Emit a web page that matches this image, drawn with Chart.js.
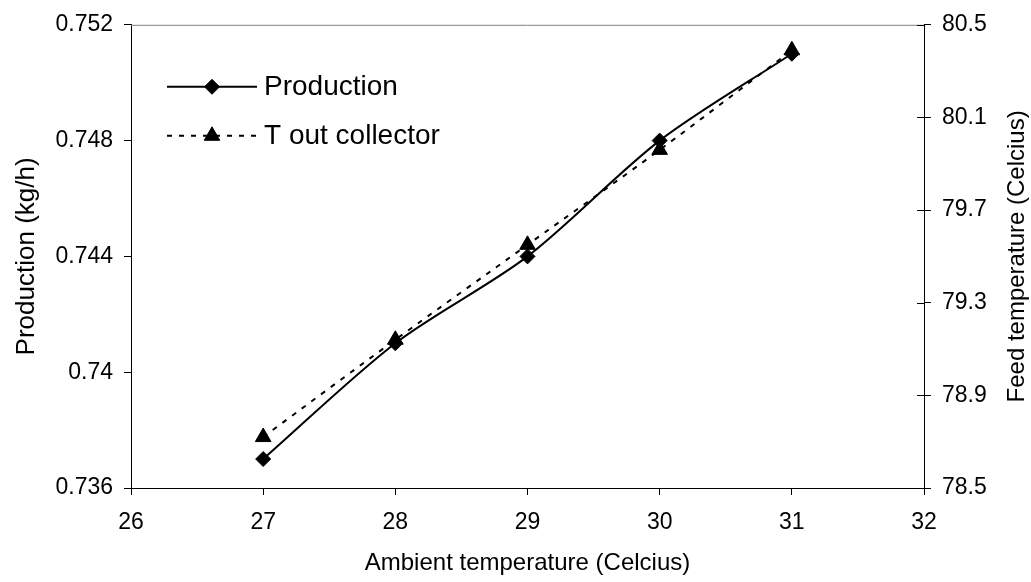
<!DOCTYPE html>
<html>
<head>
<meta charset="utf-8">
<title>Production and collector outlet temperature</title>
<script src="https://cdn.jsdelivr.net/npm/chart.js@4.4.1/dist/chart.umd.min.js"></script>
<style>
  html, body { margin: 0; padding: 0; background: #fff; }
  #wrap { position: relative; width: 1031px; height: 582px; }
</style>
</head>
<body>
<div id="wrap"><canvas id="chart"></canvas></div>
<script>
// ── Data ──
const ambientTemps  = [27, 28, 29, 30, 31];
const production    = [0.737, 0.741, 0.744, 0.748, 0.751];
const tOutCollector = [78.72, 79.14, 79.55, 79.96, 80.39];

const xTicks     = [26, 27, 28, 29, 30, 31, 32];
const leftTicks  = [0.736, 0.740, 0.744, 0.748, 0.752];
const rightTicks = [78.5, 78.9, 79.3, 79.7, 80.1, 80.5];

const FONT = "Arial, 'Liberation Sans', sans-serif";

function points(xs, ys) {
  return xs.map(function(x, i) { return { x: x, y: ys[i] }; });
}

function fixedTicks(list) {
  return function(scale) {
    scale.ticks = list.map(function(v) { return { value: v }; });
  };
}

// ── Frame top edge, right axis inner ticks, right title, legend ──
const chartExtras = {
  id: 'chartExtras',
  afterDraw: function(chart) {
    var ctx  = chart.ctx;
    var area = chart.chartArea;
    var yR   = chart.scales.yRight;

    ctx.save();

    // grey top edge of the plot frame
    ctx.strokeStyle = '#808080';
    ctx.lineWidth = 1;
    ctx.beginPath();
    ctx.moveTo(area.left, area.top + 0.5);
    ctx.lineTo(area.right, area.top + 0.5);
    ctx.stroke();

    // right axis tick marks cross the axis line
    ctx.strokeStyle = '#000';
    yR.ticks.forEach(function(t) {
      var y = Math.round(yR.getPixelForValue(t.value)) + 0.5;
      ctx.beginPath();
      ctx.moveTo(area.right - 7, y);
      ctx.lineTo(area.right, y);
      ctx.stroke();
    });

    // right axis title reads bottom to top
    ctx.save();
    ctx.translate(1017, (area.top + area.bottom) / 2);
    ctx.rotate(-Math.PI / 2);
    ctx.font = '24px ' + FONT;
    ctx.fillStyle = '#000';
    ctx.textAlign = 'center';
    ctx.textBaseline = 'middle';
    ctx.fillText('Feed temperature (Celcius)', 0, 0);
    ctx.restore();

    // legend inside the plot, top left
    var lx0 = area.left + 36, lx1 = area.left + 126;
    var rowY = [area.top + 62, area.top + 111];
    chart.data.datasets.forEach(function(ds, i) {
      var y = rowY[i];
      ctx.strokeStyle = ds.borderColor;
      ctx.lineWidth = ds.borderWidth;
      ctx.setLineDash(ds.borderDash || []);
      ctx.beginPath();
      ctx.moveTo(lx0, y);
      ctx.lineTo(lx1, y);
      ctx.stroke();
      ctx.setLineDash([]);
      ctx.fillStyle = ds.backgroundColor;
      ctx.lineWidth = ds.pointBorderWidth;
      Chart.helpers.drawPoint(ctx, {
        pointStyle  : ds.pointStyle,
        radius      : ds.pointRadius,
        borderWidth : ds.pointBorderWidth,
        rotation    : 0,
      }, (lx0 + lx1) / 2, y);
      ctx.fillStyle = '#000';
      ctx.font = '28px ' + FONT;
      ctx.textAlign = 'left';
      ctx.textBaseline = 'middle';
      ctx.fillText(ds.label, lx1 + 7, y);
    });

    ctx.restore();
  },
};

const axisFont = { family: FONT, size: 23 };

new Chart(document.getElementById('chart'), {
  type: 'line',
  data: {
    datasets: [
      {
        label            : 'Production',
        data             : points(ambientTemps, production),
        yAxisID          : 'y',
        borderColor      : '#000',
        backgroundColor  : '#000',
        borderWidth      : 2,
        pointStyle       : 'rectRot',
        pointRadius      : 7.5,
        pointBorderWidth : 1,
        tension          : 0.3,
      },
      {
        label            : 'T out collector',
        data             : points(ambientTemps, tOutCollector),
        yAxisID          : 'yRight',
        borderColor      : '#000',
        backgroundColor  : '#000',
        borderWidth      : 2,
        borderDash       : [5, 7],
        pointStyle       : 'triangle',
        pointRadius      : 9,
        pointBorderWidth : 1,
        tension          : 0.3,
      },
    ],
  },
  options: {
    responsive          : true,
    maintainAspectRatio : false,
    animation           : false,
    layout  : { padding: { top: 21, left: 0, right: 0, bottom: 0 } },
    plugins : { legend: { display: false }, tooltip: { enabled: false } },
    scales  : {
      x: {
        type            : 'linear',
        min             : 26,
        max             : 32,
        afterBuildTicks : fixedTicks(xTicks),
        afterFit        : function(s) { s.height = 94; },
        border : { color: '#000', width: 1 },
        grid   : { drawOnChartArea: false, tickLength: 7, tickColor: '#000' },
        ticks  : { padding: 14, color: '#000', font: axisFont, maxRotation: 0 },
        title  : {
          display : true,
          text    : 'Ambient temperature (Celcius)',
          color   : '#000',
          font    : { family: FONT, size: 24 },
          padding : { bottom: 4 },
        },
      },
      y: {
        position        : 'left',
        min             : 0.736,
        max             : 0.752,
        afterBuildTicks : fixedTicks(leftTicks),
        afterFit        : function(s) { s.width = 131; },
        border : { color: '#000', width: 1 },
        grid   : { drawOnChartArea: false, tickLength: 7, tickColor: '#000' },
        ticks  : {
          padding  : 11,
          color    : '#000',
          font     : axisFont,
          callback : function(v) { return String(Number(v.toFixed(3))); },
        },
        title  : {
          display : true,
          text    : 'Production (kg/h)',
          color   : '#000',
          font    : { family: FONT, size: 26 },
          padding : { top: 11 },
        },
      },
      yRight: {
        position        : 'right',
        min             : 78.5,
        max             : 80.5,
        afterBuildTicks : fixedTicks(rightTicks),
        afterFit        : function(s) { s.width = 107; },
        border : { color: '#000', width: 1 },
        grid   : { drawOnChartArea: false, tickLength: 7, tickColor: '#000' },
        ticks  : {
          padding  : 11,
          color    : '#000',
          font     : axisFont,
          callback : function(v) { return v.toFixed(1); },
        },
      },
    },
  },
  plugins: [chartExtras],
});
</script>
</body>
</html>
